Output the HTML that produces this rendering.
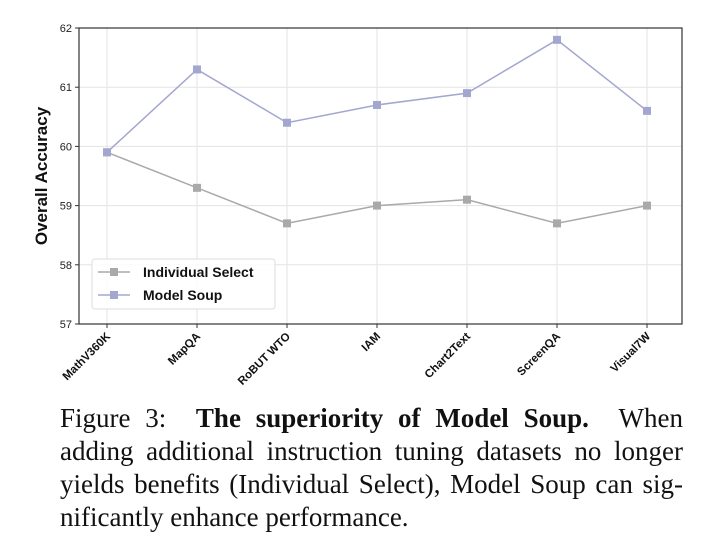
<!DOCTYPE html>
<html><head><meta charset="utf-8"><style>
body{margin:0;background:#fff;width:708px;height:560px;overflow:hidden;position:relative}
#cap{position:absolute;left:60px;top:402px;width:623px;font-family:"Liberation Serif",serif;font-size:27px;line-height:33px;color:#111}
#cap div{text-align:justify;text-align-last:justify;white-space:nowrap}
#cap div.last{text-align-last:left}
</style></head><body>
<svg width="708" height="400" style="position:absolute;left:0;top:0" font-family="Liberation Sans, sans-serif">
<g id="g"></g>
</svg>
<div id="cap">
<div>Figure 3: &nbsp;<b>The superiority of Model Soup.</b> &nbsp;When</div>
<div>adding additional instruction tuning datasets no longer</div>
<div>yields benefits (Individual Select), Model Soup can sig-</div>
<div class="last">nificantly enhance performance.</div>
</div>
<script>
const categories=["MathV360K","MapQA","RoBUT WTO","IAM","Chart2Text","ScreenQA","Visual7W"];
const individualSelect=[59.9,59.3,58.7,59.0,59.1,58.7,59.0];
const modelSoup=[59.9,61.3,60.4,60.7,60.9,61.8,60.6];
const yTicks=[57,58,59,60,61,62];
const L=79,R=682,T=28,B=324;
const x=i=>107+i*90;
const y=v=>B-(v-57)/(62-57)*(B-T);
const g=document.getElementById('g');const NS="http://www.w3.org/2000/svg";
function mk(t,a,p){const e=document.createElementNS(NS,t);for(const k in a)e.setAttribute(k,a[k]);(p||g).appendChild(e);return e;}
yTicks.forEach(v=>{
 const l=mk('line',{x1:L,x2:R,y1:y(v),y2:y(v),stroke:'#e3e3e3'});
 
 
 mk('line',{x1:L-4,x2:L,y1:y(v),y2:y(v),stroke:'#333'});
 const t=mk('text',{x:L-7,y:y(v)+4,'text-anchor':'end','font-size':11,fill:'#222'});t.textContent=v;
 
 
});
categories.forEach((c,i)=>{
 mk('line',{x1:x(i),x2:x(i),y1:T,y2:B,stroke:'#e3e3e3'});
 mk('line',{x1:x(i),x2:x(i),y1:B,y2:B+4,stroke:'#333'});
 const t=mk('text',{x:x(i)+4,y:B+13,'text-anchor':'end','font-size':11.5,'font-weight':'bold',fill:'#111',transform:`rotate(-45 ${x(i)+4} ${B+13})`});t.textContent=c;
 
 
});
const fr=mk('rect',{x:L,y:T,width:R-L,height:B-T,fill:'none',stroke:'#333','stroke-width':1.2});


function series(d,col,name){
 const pl=mk('polyline',{points:d.map((v,i)=>x(i)+','+y(v)).join(' '),fill:'none',stroke:col,'stroke-width':1.5});
 
 
 d.forEach((v,i)=>{const r=mk('rect',{x:x(i)-4,y:y(v)-4,width:8,height:8,fill:col});
 
 });
}
series(individualSelect,'#a9a9a9','individual-select');
series(modelSoup,'#a3a7cf','model-soup');
const yl=mk('text',{x:47,y:176,'text-anchor':'middle','font-size':17,'font-weight':'bold',fill:'#111',transform:'rotate(-90 47 176)'});yl.textContent='Overall Accuracy';


const lg=mk('g',{});


mk('rect',{x:92,y:259,width:183,height:50,rx:3,fill:'#fff','fill-opacity':0.85,stroke:'#ddd'},lg);
[['Individual Select','#a9a9a9',272],['Model Soup','#a3a7cf',295]].forEach(([n,c,yy])=>{
 mk('line',{x1:98,x2:130,y1:yy,y2:yy,stroke:c,'stroke-width':1.5},lg);
 mk('rect',{x:110,y:yy-4,width:8,height:8,fill:c},lg);
 const t=mk('text',{x:143,y:yy+5,'font-size':14,'font-weight':'bold',fill:'#111'},lg);t.textContent=n;
 
 
});
</script>
</body></html>
